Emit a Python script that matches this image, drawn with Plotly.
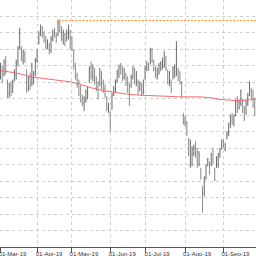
import plotly.graph_objects as go

tick_idx = [0, 21, 41, 63, 83, 106, 128]
tick_text = ["01-Mar-19", "01-Apr-19", "01-May-19", "01-Jun-19", "01-Jul-19", "01-Ago-19", "01-Sep-19"]

high = [11.16, 10.96, 11.36, 11.57, 10.15, 9.95, 10.05, 10.15, 10.76, 11.36,
        12.17, 13.28, 12.17, 11.97, 11.87, 10.76, 10.35, 10.56, 11.16, 10.66,
        11.46, 11.97, 13.08, 13.48, 13.38, 13.08, 12.78, 12.58, 12.37, 12.78,
        13.18, 13.28, 12.98, 13.79, 13.79, 13.38, 13.18, 12.98, 13.18, 13.48,
        13.18, 12.78, 11.97, 11.16, 10.56, 10.15, 9.85, 9.24, 9.14, 9.55,
        9.75, 10.96, 11.26, 11.06, 10.86, 10.35, 10.05, 10.86, 10.66, 10.15,
        9.85, 9.14, 8.74, 8.23, 9.34, 9.75, 10.15, 10.76, 11.06, 11.16,
        10.96, 10.86, 10.56, 10.35, 9.95, 10.45, 10.96, 10.86, 10.66, 10.15,
        10.05, 9.95, 10.15, 10.96, 11.26, 11.16, 12.07, 12.07, 11.36, 10.96,
        10.86, 11.16, 11.26, 11.46, 11.87, 11.57, 10.76, 10.66, 10.15, 10.96,
        11.06, 12.47, 10.86, 10.66, 10.05, 8.13, 7.93, 7.63, 6.62, 6.52,
        6.11, 6.21, 6.41, 6.01, 5.81, 4.80, 3.69, 4.29, 5.00, 5.40,
        5.20, 5.71, 6.01, 4.80, 5.51, 5.71, 6.01, 6.52, 6.52, 6.31,
        7.02, 7.53, 8.03, 8.13, 8.03, 8.94, 9.14, 8.94, 9.55, 8.94,
        8.54, 8.94, 9.34, 10.05, 9.65, 9.55, 9.04, 9.34]
low = [10.15, 9.95, 10.35, 10.45, 9.04, 9.04, 9.14, 9.34, 10.05, 10.15,
       10.96, 11.97, 11.26, 11.06, 11.16, 9.34, 9.44, 9.55, 9.75, 9.85,
       10.35, 11.16, 12.27, 12.78, 12.68, 12.37, 11.97, 11.97, 11.67, 11.77,
       12.47, 12.68, 12.37, 12.78, 12.98, 12.47, 12.27, 12.17, 12.47, 12.58,
       11.97, 11.87, 10.76, 10.15, 9.65, 9.14, 8.74, 8.54, 8.23, 8.74,
       8.94, 9.95, 10.15, 10.05, 9.85, 9.44, 8.94, 9.75, 9.55, 9.34,
       9.04, 8.23, 8.13, 7.02, 8.33, 9.14, 9.34, 9.95, 10.25, 10.45,
       10.05, 10.15, 9.75, 9.34, 8.54, 9.65, 10.15, 9.85, 9.75, 9.24,
       9.44, 9.14, 9.24, 10.15, 10.66, 10.66, 11.06, 11.16, 10.66, 10.25,
       10.15, 10.45, 10.66, 10.76, 10.86, 10.66, 9.85, 9.75, 9.34, 10.15,
       10.25, 10.35, 10.05, 9.85, 9.04, 7.42, 7.32, 6.72, 5.51, 4.80,
       4.90, 5.51, 5.40, 4.80, 4.90, 4.09, 2.07, 3.08, 4.09, 4.90,
       4.39, 4.90, 5.00, 3.99, 4.80, 4.80, 5.40, 5.91, 6.01, 5.81,
       6.52, 6.72, 7.22, 7.42, 7.32, 7.93, 8.13, 8.33, 8.54, 8.13,
       7.63, 8.03, 8.54, 9.14, 8.94, 8.43, 7.93, 8.33]
open_ = [10.4, 10.8, 10.5, 11.3, 9.9, 9.3, 9.8, 9.5, 10.2, 10.4,
         11.1, 12.1, 12.0, 11.3, 11.7, 10.6, 9.6, 10.3, 9.9, 10.0,
         10.5, 11.3, 12.4, 12.9, 13.2, 12.9, 12.6, 12.1, 12.2, 11.9,
         12.6, 13.0, 12.8, 12.9, 13.6, 13.2, 12.6, 12.9, 12.5, 12.8,
         13.0, 12.6, 11.7, 10.9, 10.4, 9.9, 9.6, 9.0, 8.7, 8.9,
         9.1, 10.1, 10.8, 10.3, 10.7, 10.2, 9.7, 9.9, 10.5, 9.9,
         9.6, 9.0, 8.4, 8.1, 8.5, 9.3, 9.5, 10.1, 10.5, 10.9,
         10.7, 10.3, 10.4, 10.1, 9.4, 9.8, 10.3, 10.7, 10.0, 10.0,
         9.6, 9.8, 9.4, 10.3, 10.8, 11.0, 11.3, 11.9, 11.2, 10.8,
         10.4, 10.6, 10.8, 11.0, 11.0, 11.4, 10.6, 10.1, 10.0, 10.3,
         10.4, 10.6, 10.7, 10.5, 9.9, 8.0, 7.5, 7.5, 6.4, 5.0,
         5.1, 5.7, 6.2, 5.7, 5.0, 4.7, 3.5, 3.3, 4.2, 5.0,
         5.0, 5.0, 5.8, 4.6, 4.9, 5.0, 5.5, 6.0, 6.4, 5.9,
         6.6, 6.8, 7.3, 7.9, 7.4, 8.0, 8.8, 8.4, 8.7, 8.9,
         8.4, 8.1, 8.7, 9.2, 9.5, 9.4, 8.8, 8.4]
close = [10.9, 10.2, 11.2, 10.6, 9.3, 9.8, 9.4, 10.0, 10.6, 11.2,
         12.0, 12.9, 11.4, 11.8, 11.3, 9.6, 10.2, 9.8, 10.9, 10.5,
         11.3, 11.8, 12.9, 13.2, 12.8, 12.5, 12.1, 12.4, 11.8, 12.6,
         13.0, 12.8, 12.5, 13.6, 13.1, 12.6, 13.0, 12.3, 13.0, 13.3,
         12.1, 12.0, 10.9, 10.3, 9.8, 9.3, 8.9, 8.7, 9.0, 9.4,
         9.6, 10.8, 10.4, 10.9, 10.0, 9.6, 9.2, 10.6, 9.8, 9.5,
         9.2, 8.4, 8.6, 7.3, 9.2, 9.6, 10.0, 10.6, 10.9, 10.6,
         10.2, 10.7, 9.9, 9.5, 8.8, 10.3, 10.8, 10.0, 10.5, 9.4,
         9.9, 9.3, 10.0, 10.8, 11.1, 10.8, 11.9, 11.3, 10.8, 10.4,
         10.7, 11.0, 11.1, 11.3, 11.7, 10.8, 10.0, 10.5, 9.5, 10.8,
         10.9, 12.1, 10.2, 10.0, 9.2, 7.6, 7.8, 6.9, 5.7, 6.3,
         5.9, 6.0, 5.6, 5.0, 5.6, 4.2, 2.5, 4.1, 4.9, 5.3,
         4.5, 5.6, 5.1, 4.1, 5.4, 5.6, 5.9, 6.4, 6.1, 6.2,
         6.9, 7.4, 7.9, 7.5, 7.9, 8.8, 8.3, 8.8, 9.4, 8.3,
         7.8, 8.8, 9.2, 9.9, 9.1, 8.6, 8.1, 9.2]

ma_idx = [0, 10, 19, 31, 40, 46, 52, 59, 65, 73, 80, 92, 103, 115, 121, 126, 134, 142, 147]
ma_val = [10.70, 10.52, 10.29, 10.15, 10.01, 9.85, 9.65, 9.48, 9.38, 9.26, 9.20, 9.14,
          9.10, 9.10, 9.04, 8.94, 8.88, 8.90, 8.98]

max_line_idx = [33, 150]
max_line_val = [13.72, 13.72]

x = list(range(len(high)))

fig = go.Figure()
fig.add_trace(go.Ohlc(
    x=x, open=open_, high=high, low=low, close=close,
    increasing=dict(line=dict(color="#6a6a6a", width=1)),
    decreasing=dict(line=dict(color="#8a8a8a", width=1)),
    tickwidth=0.25, hoverinfo="skip", showlegend=False,
))
fig.add_trace(go.Scatter(x=ma_idx, y=ma_val, mode="lines",
                         line=dict(color="rgb(240,110,110)", width=1),
                         showlegend=False, hoverinfo="skip"))
fig.add_trace(go.Scatter(x=max_line_idx, y=max_line_val, mode="lines",
                         line=dict(color="rgb(255,160,60)", width=1.3, dash="2px,1.5px"),
                         showlegend=False, hoverinfo="skip"))

fig.update_layout(
    width=256, height=256,
    margin=dict(l=0, r=0, t=0, b=9),
    paper_bgcolor="white", plot_bgcolor="white",
    showlegend=False,
    xaxis=dict(
        range=[-0.3, 146.7], rangeslider=dict(visible=False),
        tickmode="array", tickvals=tick_idx, ticktext=tick_text,
        showgrid=True, gridcolor="#d0d0d0", griddash="dot", gridwidth=1,
        showline=True, linecolor="#555555", linewidth=1,
        ticks="outside", ticklen=5, tickcolor="#555555",
        tickfont=dict(family="Liberation Sans Narrow, Liberation Sans, sans-serif", size=6, color="#333333"),
        ticklabelshift=12, ticklabelstandoff=-4, ticklabeloverflow="allow",
        zeroline=False, fixedrange=True,
    ),
    yaxis=dict(
        range=[0, 14.97], tickmode="linear", tick0=0, dtick=1,
        showgrid=True, gridcolor="#d0d0d0", griddash="dot", gridwidth=1,
        showticklabels=False, ticks="", showline=False, zeroline=False,
    ),
)

fig.write_html("out.html")
